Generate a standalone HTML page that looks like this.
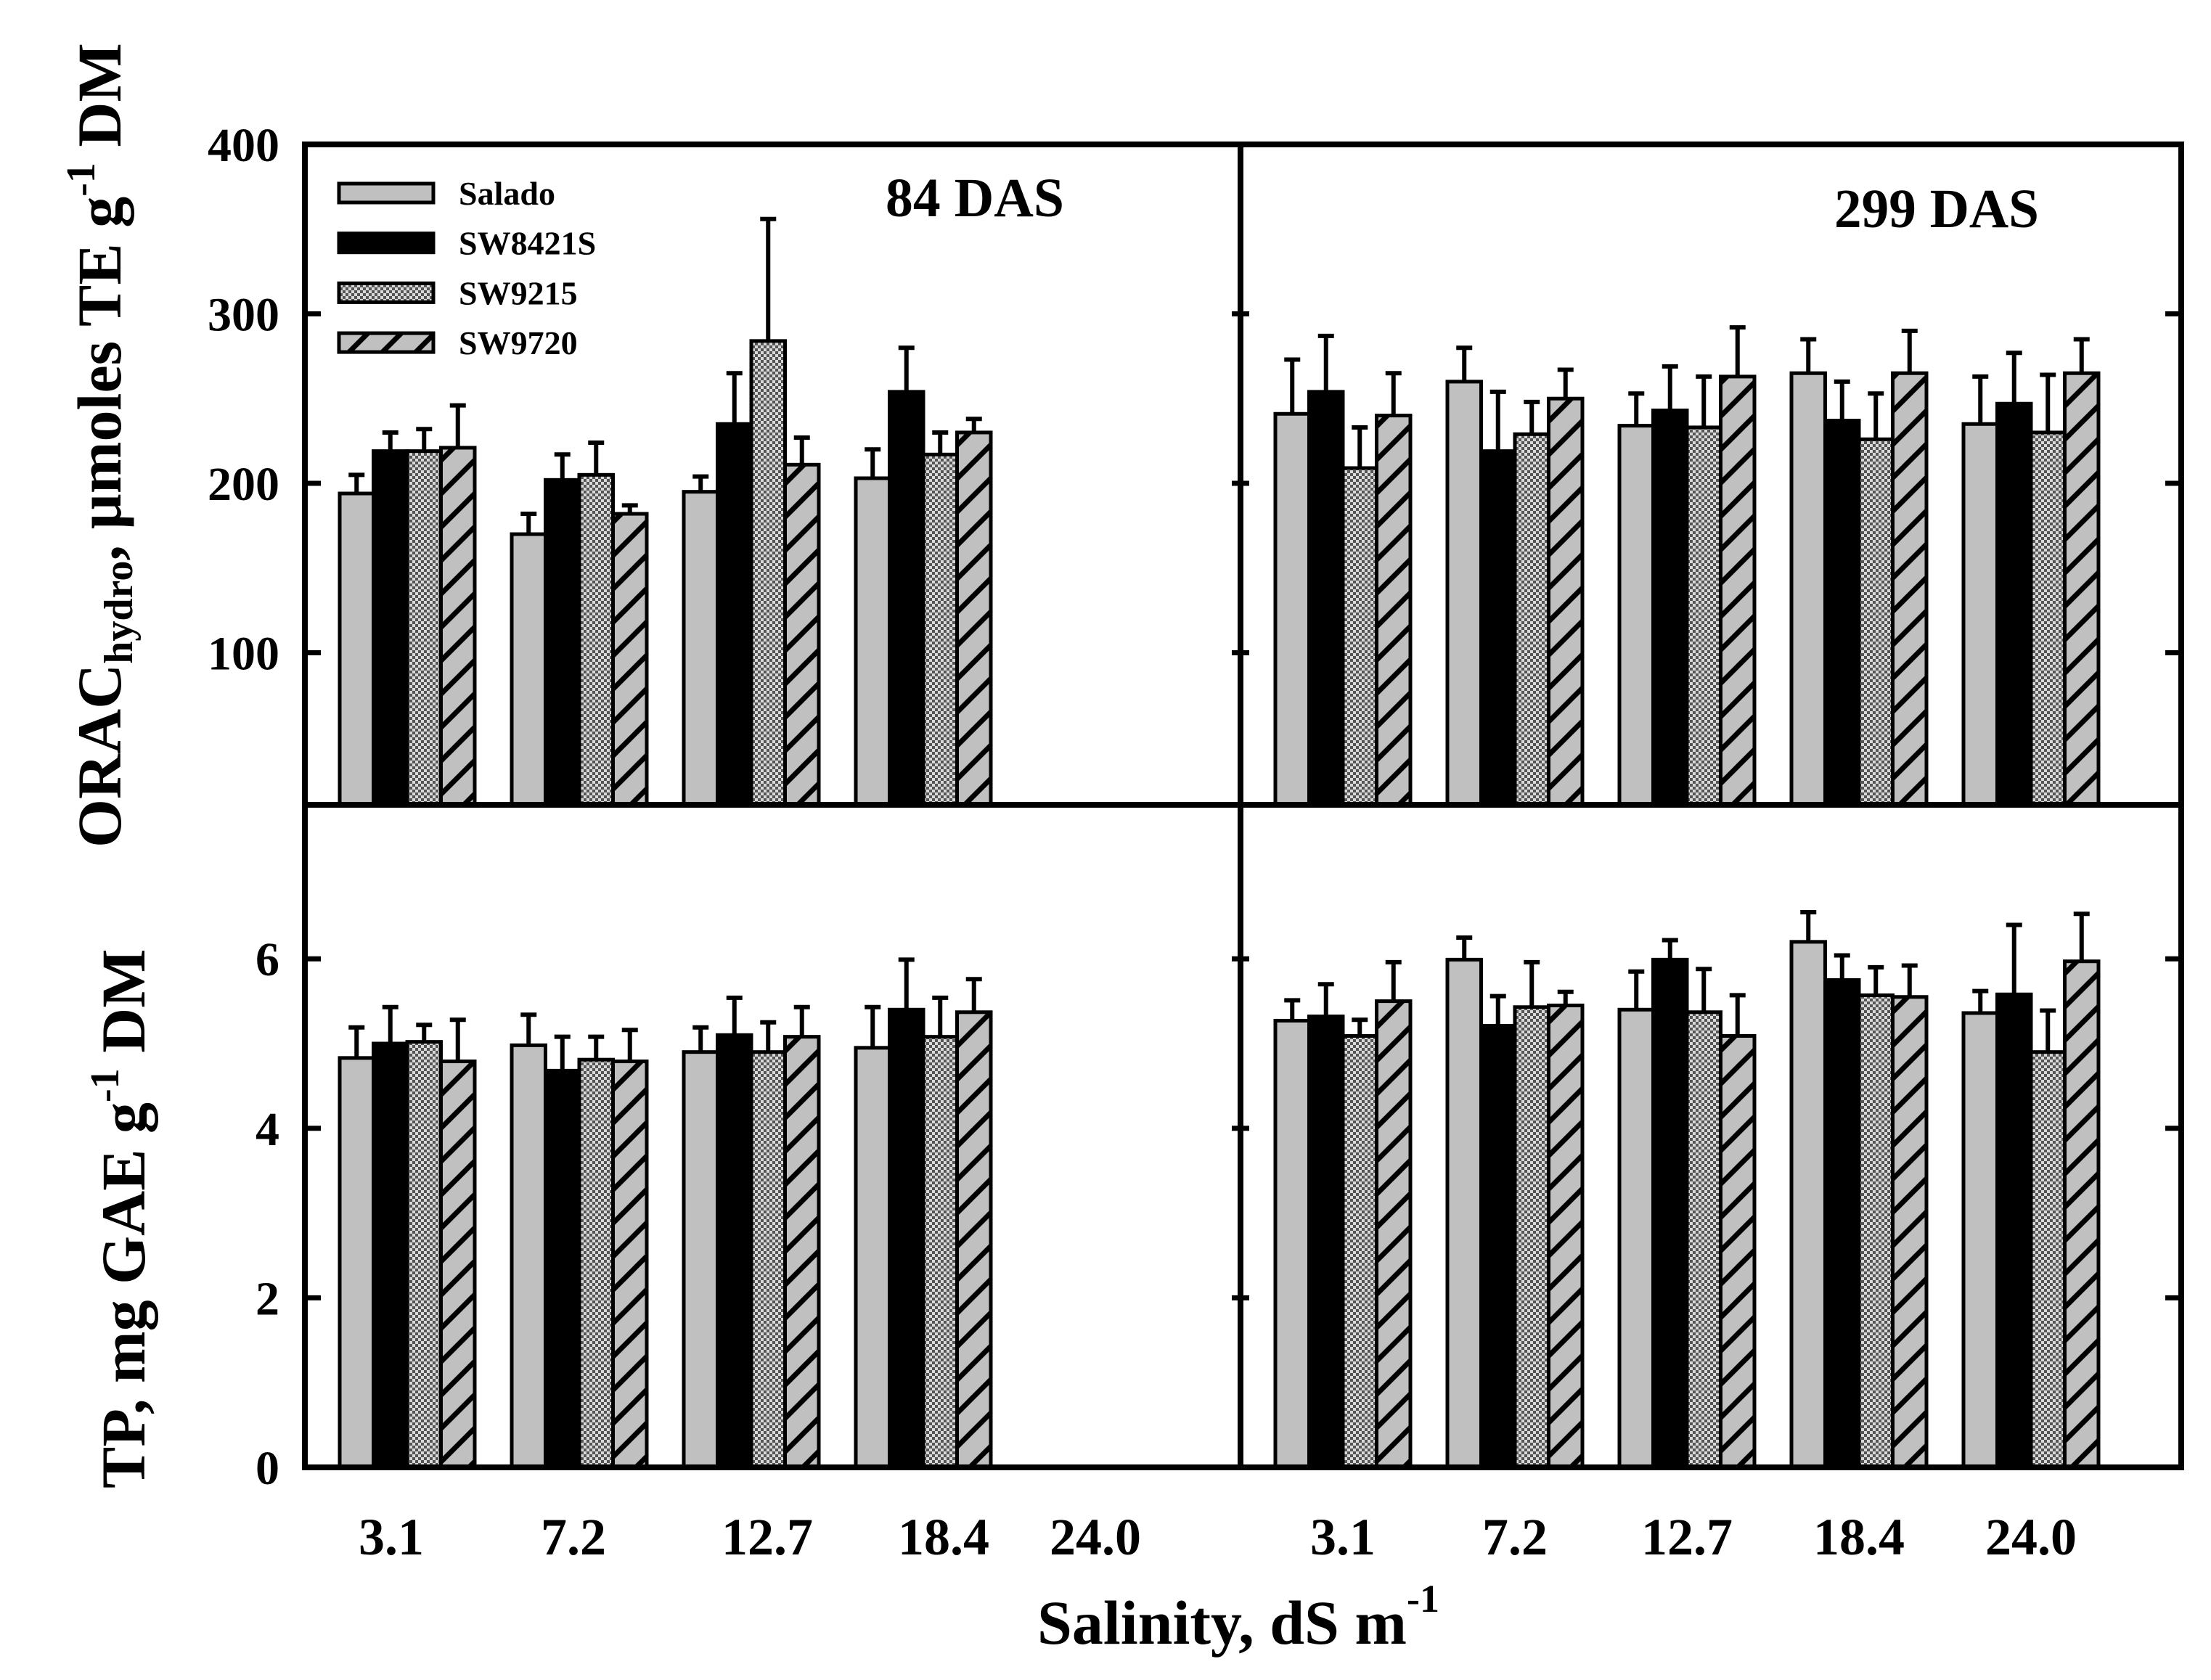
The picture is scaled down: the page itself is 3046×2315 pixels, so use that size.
<!DOCTYPE html>
<html><head><meta charset="utf-8"><style>
html,body{margin:0;padding:0;background:#fff;}
svg{display:block;font-family:"Liberation Serif",serif;font-weight:bold;}
</style></head><body>
<svg id="chart" width="3046" height="2315" viewBox="0 0 3046 2315" xmlns="http://www.w3.org/2000/svg">
<defs>
<pattern id="dots" width="8" height="8" patternUnits="userSpaceOnUse">
<rect width="8" height="8" fill="#d8d8d8"/><rect x="0" y="0" width="4" height="4" fill="#555"/><rect x="4" y="4" width="4" height="4" fill="#555"/>
</pattern>
<pattern id="hatch" width="46" height="46" patternUnits="userSpaceOnUse">
<rect width="46" height="46" fill="#c0c0c0"/>
<path d="M-10,56 L56,-10 M-33,33 L33,-33 M13,79 L79,13" stroke="#000" stroke-width="7"/>
</pattern>
</defs>
<g id="marks"></g>
<g id="axes"></g>
</svg>
<script>
const series = ["Salado","SW8421S","SW9215","SW9720"];
const categories = ["3.1","7.2","12.7","18.4","24.0"];
const oracTicks = [100,200,300,400];
const tpTicks = [0,2,4,6];
const orac84 = [[194,170,195,203],[219,202,235,254],[219,205,284,217],[221,182,211,230]];
const orac84Err = [[205,182,204,220],[230,217,265,280],[232,224,356,230],[246,187,227,238]];
const orac299 = [[241,260,234,265,235],[254,219,243,237,247],[209,229,233,226,230],[240,250,263,265,265]];
const orac299Err = [[273,280,253,285,263],[287,254,269,260,277],[233,248,263,253,264],[265,267,292,290,285]];
const tp84 = [[4.83,4.98,4.90,4.95],[5.00,4.68,5.10,5.40],[5.02,4.81,4.90,5.08],[4.79,4.79,5.08,5.37]];
const tp84Err = [[5.19,5.34,5.19,5.43],[5.43,5.08,5.54,5.99],[5.22,5.08,5.25,5.54],[5.28,5.16,5.43,5.76]];
const tp299 = [[5.27,5.99,5.40,6.20,5.36],[5.32,5.21,5.99,5.75,5.58],[5.09,5.43,5.37,5.57,4.90],[5.50,5.45,5.09,5.55,5.97]];
const tp299Err = [[5.51,6.25,5.85,6.55,5.62],[5.70,5.56,6.22,6.04,6.40],[5.28,5.96,5.88,5.90,5.39],[5.96,5.61,5.57,5.92,6.53]];

const NS="http://www.w3.org/2000/svg";
const L=420, MID=1709, R=3005, TOP=199, HMID=1109, BOT=2022;
const fills=["#c0c0c0","#000","url(#dots)","url(#hatch)"];
const leftLabelShift=[-22,-8,22,28,0];
function yOrac(v){return TOP+(400-v)*2.335;}
function yTP(v){return BOT-v*116.8;}
function xBar(axisX,g,s){return axisX+48+g*237+s*46.5;}
function el(tag,attrs,parent){const e=document.createElementNS(NS,tag);for(const k in attrs)e.setAttribute(k,attrs[k]);parent.appendChild(e);return e;}
const marks=document.getElementById('marks'), axes=document.getElementById('axes');

function drawPanel(vals,errs,axisX,yf,base,name){
  vals.forEach((arr,s)=>arr.forEach((v,g)=>{
    const x=xBar(axisX,g,s), y=yf(v), w=46.5;
    const cx=x+w/2;
    const eb=el('path',{d:`M${cx},${y} L${cx},${yf(errs[s][g])} M${cx-11},${yf(errs[s][g])} L${cx+11},${yf(errs[s][g])}`,stroke:'#000','stroke-width':6,fill:'none'},marks);
    
    
    const r=el('rect',{x:x,y:y,width:w,height:base-y,fill:fills[s],stroke:'#000','stroke-width':5},marks);
    
    
  }));
}
drawPanel(orac84,orac84Err,L,yOrac,HMID,'orac-84');
drawPanel(orac299,orac299Err,MID,yOrac,HMID,'orac-299');
drawPanel(tp84,tp84Err,L,yTP,BOT,'tp-84');
drawPanel(tp299,tp299Err,MID,yTP,BOT,'tp-299');

const fr=el('path',{d:`M${L},${TOP} H${R} V${BOT} H${L} Z M${L},${HMID} H${R} M${MID},${TOP} V${BOT}`,stroke:'#000','stroke-width':8,fill:'none'},axes);


function ticks(list,yf,lo,hi){
  list.forEach(t=>{
    const y=yf(t);
    if(!(y<=lo+2||y>=hi-2)) {
      const tk=el('path',{d:`M${L},${y} H${L+22} M${MID-12},${y} H${MID+12} M${R-22},${y} H${R}`,stroke:'#000','stroke-width':7},axes);
      
      
    }
    const tx=el('text',{x:385,y:y+23,'text-anchor':'end','font-size':66},axes);
    tx.textContent=t;
    
    
  });
}
ticks(oracTicks,yOrac,TOP,HMID);
ticks(tpTicks,yTP,HMID,BOT);
[L,MID].forEach((ax,p)=>categories.forEach((c,g)=>{
  const cx=xBar(ax,g,0)+93+(p?0:leftLabelShift[g]);
  const t=el('text',{x:cx,y:2142,'text-anchor':'middle','font-size':72},axes);
  t.textContent=c;
  
  
}));
series.forEach((s,i)=>{
  const y=266+i*68.7;
  const sw=el('rect',{x:467,y:y-13,width:130,height:26,fill:fills[i],stroke:'#000','stroke-width':5},axes);
  
  
  const t=el('text',{x:632,y:y+16,'font-size':46},axes);
  t.textContent=s;
  
  
});
</script>
<svg style="position:absolute;left:0;top:0" width="3046" height="2315">
<text x="1220" y="298" font-size="76" font-family="Liberation Serif" font-weight="bold" textLength="246" lengthAdjust="spacingAndGlyphs">84 DAS</text>
<text x="2527" y="313" font-size="76" font-family="Liberation Serif" font-weight="bold" textLength="282" lengthAdjust="spacingAndGlyphs">299 DAS</text>
<text x="1429" y="2265" font-size="86" font-family="Liberation Serif" font-weight="bold">Salinity, dS m<tspan font-size="54" dy="-44">-1</tspan></text>
<text transform="translate(166,1168) rotate(-90)" font-size="86" font-family="Liberation Serif" font-weight="bold">ORAC<tspan font-size="56" dy="16">hydro</tspan><tspan dy="-16">, µmoles TE g</tspan><tspan font-size="56" dy="-36">-1</tspan><tspan dy="36"> DM</tspan></text>
<text transform="translate(199,2051) rotate(-90)" font-size="86" font-family="Liberation Serif" font-weight="bold">TP, mg GAE g<tspan font-size="56" dy="-36">-1</tspan><tspan dy="36"> DM</tspan></text>
</svg>
</body></html>
